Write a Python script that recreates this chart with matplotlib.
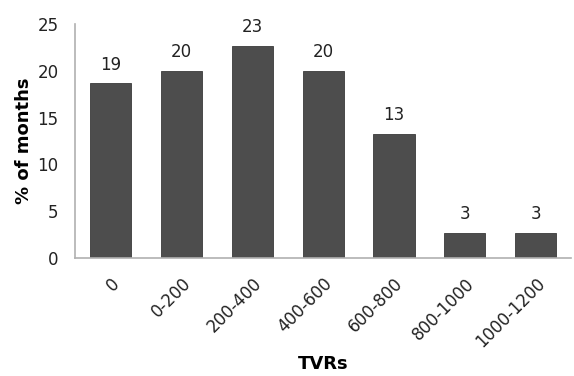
import numpy as np
import matplotlib.pyplot as plt

# TVR bins and share of months
categories = ['0', '0-200', '200-400', '400-600', '600-800', '800-1000', '1000-1200']
values = [18.7, 20.0, 22.7, 20.0, 13.3, 2.7, 2.7]
labels = ['19', '20', '23', '20', '13', '3', '3']

fig = plt.figure(figsize=(5.74, 3.76), dpi=100)
ax = fig.add_axes([0.131, 0.314, 0.864, 0.622])

x = np.arange(len(categories))
bars = ax.bar(x, values, width=0.58, color='#4d4d4d', edgecolor='#3a3a3a', linewidth=0.6)

for xi, v, lab in zip(x, values, labels):
    ax.text(xi, v + 1.0, lab, ha='center', va='bottom', fontsize=12, color='#222222')

ax.set_xlim(-0.5, len(categories) - 0.5)
ax.set_ylim(0, 25)
ax.set_yticks(np.arange(0, 26, 5))
ax.set_xticks(x)
ax.set_xticklabels(categories, rotation=45, ha='right', rotation_mode='anchor')
ax.tick_params(length=0, labelsize=12, colors='#222222')
ax.tick_params(axis='y', pad=12)
ax.tick_params(axis='x', pad=12)

for s in ['top', 'right']:
    ax.spines[s].set_visible(False)
for s in ['left', 'bottom']:
    ax.spines[s].set_color('#b0b0b0')
    ax.spines[s].set_linewidth(1.2)

ax.set_ylabel('% of months', fontsize=13, fontweight='bold', labelpad=3)
ax.set_xlabel('TVRs', fontsize=13, fontweight='bold', labelpad=3)

fig.savefig('out.png', dpi=100)
